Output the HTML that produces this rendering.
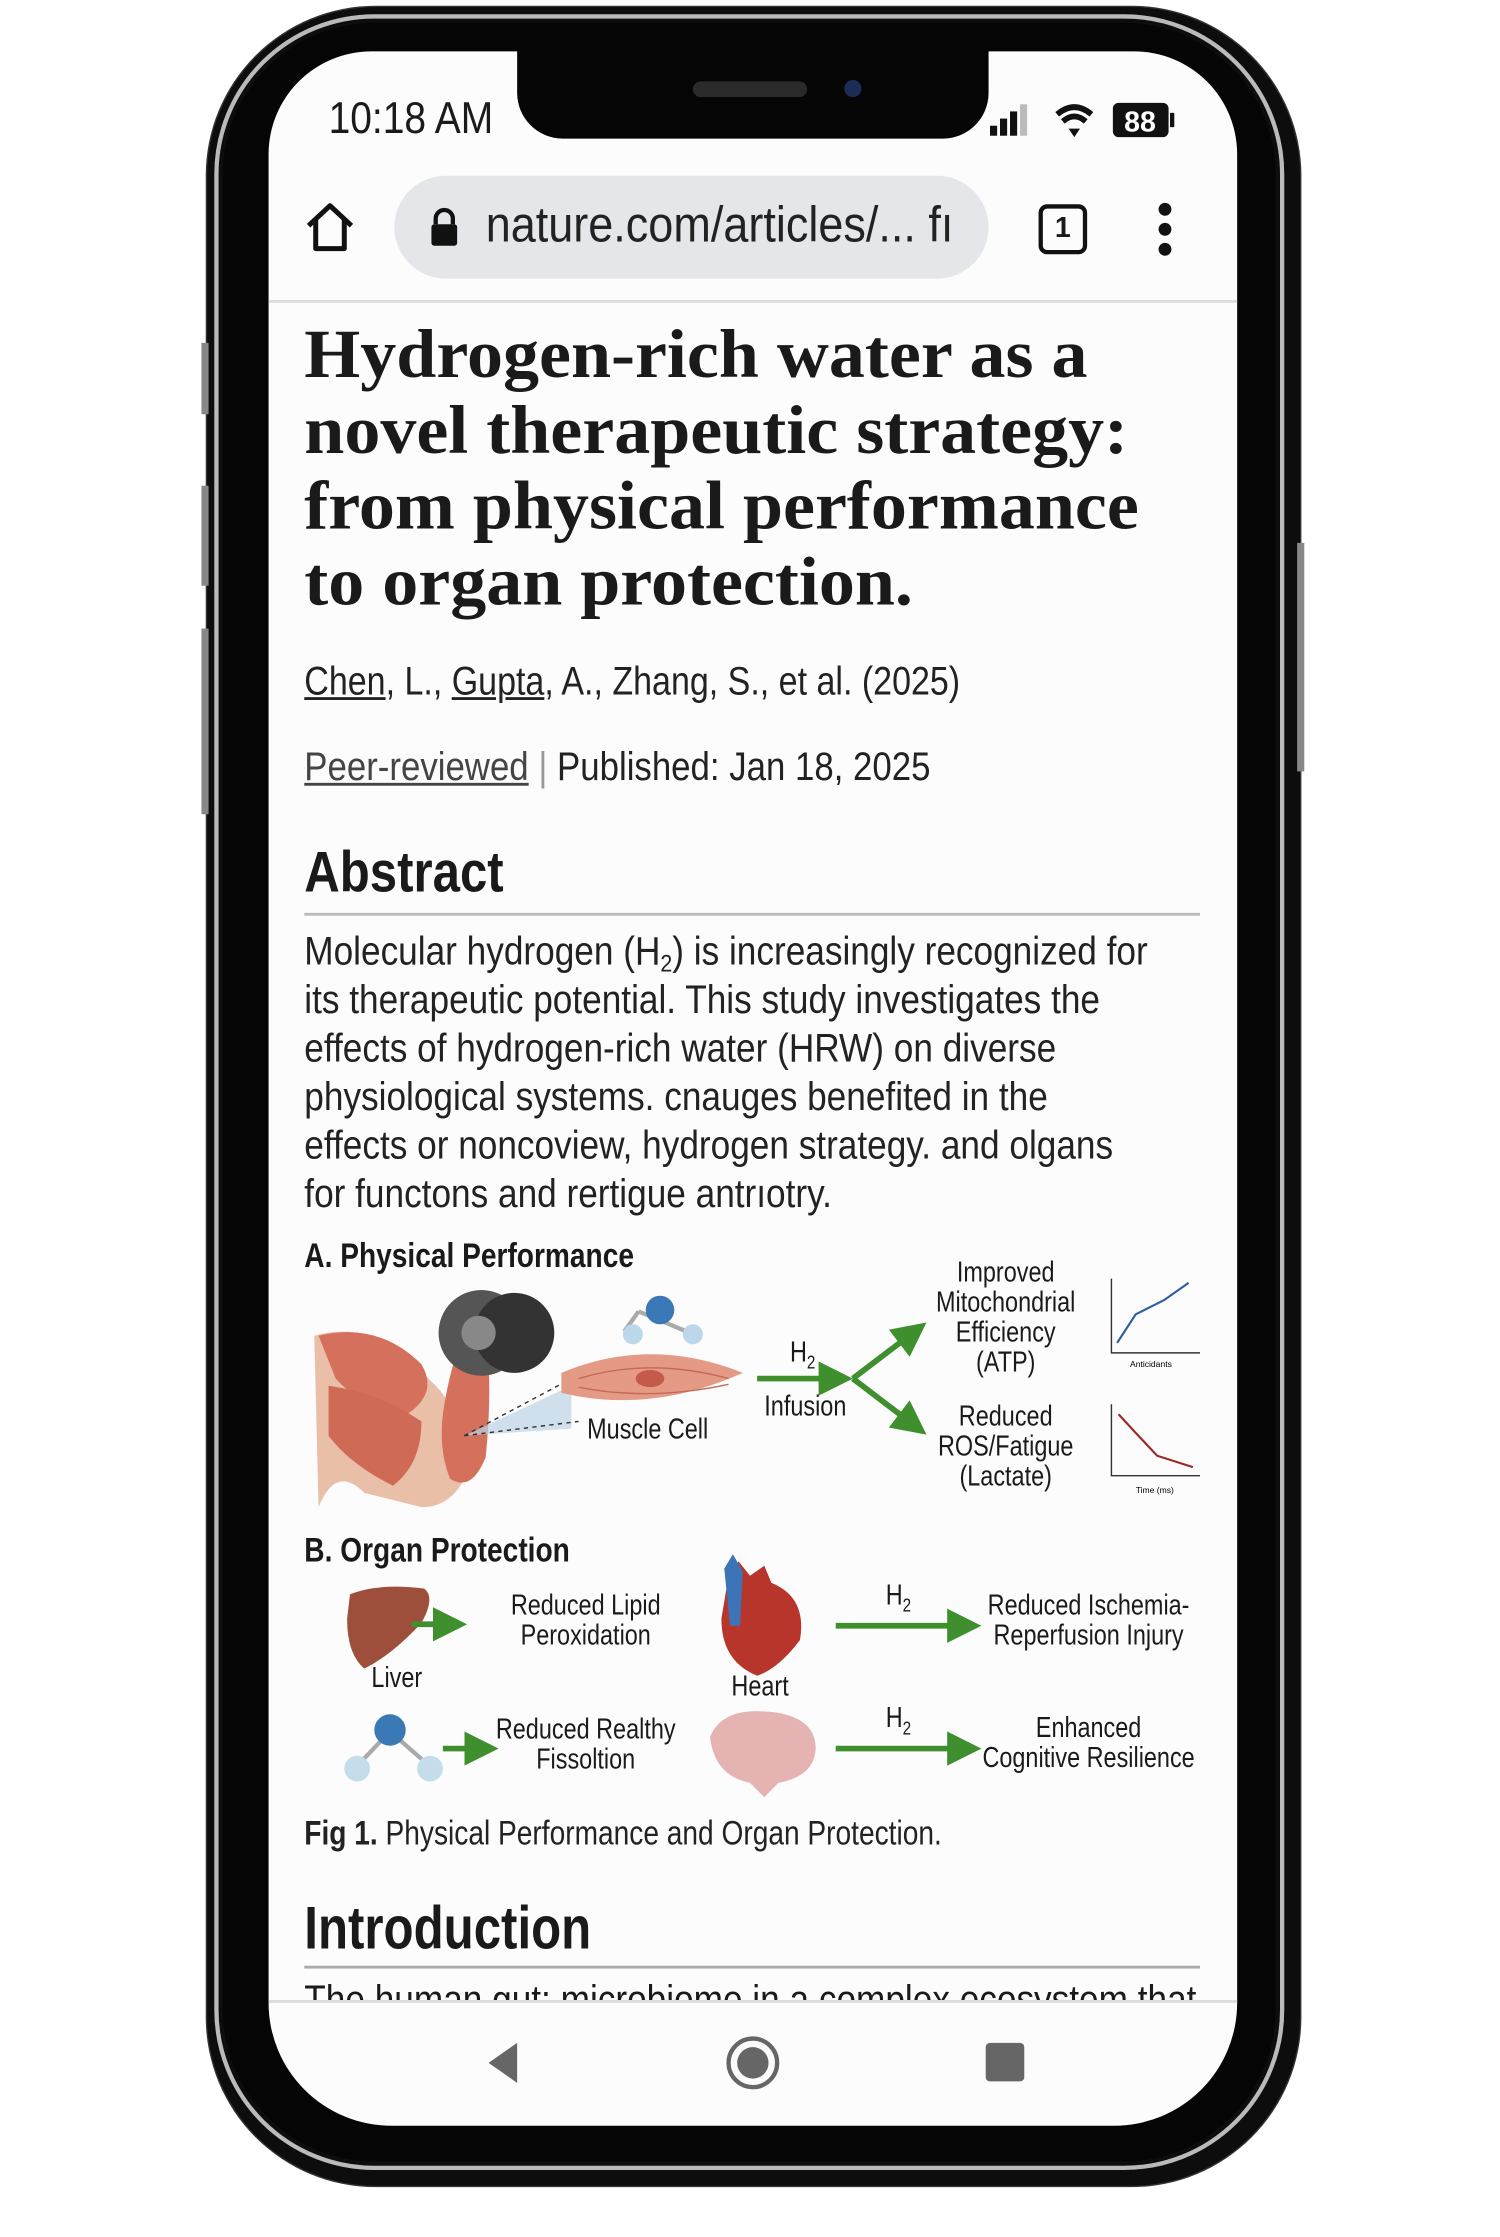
<!DOCTYPE html>
<html><head><meta charset="utf-8">
<style>
html,body{margin:0;padding:0;background:#fff;width:1500px;height:2236px;overflow:hidden}
#w{position:absolute;left:0;top:0;width:1050px;height:1566px;transform:scale(1.428571,1.428571);transform-origin:0 0;font-family:"Liberation Sans",sans-serif;color:#1a1a1a}
.a{position:absolute;white-space:nowrap}
.n{transform:scaleX(.82);transform-origin:0 50%}
.nc{transform:translateX(-50%) scaleX(.82);transform-origin:50% 50%;text-align:center}
.t{font-family:"Liberation Serif",serif;font-weight:bold;font-size:48px;letter-spacing:0;line-height:53px;left:213px;top:222px;transform:scaleX(1.05);transform-origin:0 0}
sub{font-size:17px;line-height:0;vertical-align:-5px}
</style></head><body><div id="w">
<div class="a" style="left:145px;top:5px;width:765px;height:1525px;border-radius:118px;background:#0d0d0d;box-shadow:0 0 0 1px #333"></div>
<div class="a" style="left:150px;top:10px;width:749px;height:1509px;border-radius:112px;border:3px solid #b9bbbb;box-sizing:border-box"></div>
<div class="a" style="left:156px;top:16px;width:737px;height:1497px;border-radius:106px;background:#050505"></div>
<div class="a" style="left:141px;top:240px;width:5px;height:50px;background:#888"></div>
<div class="a" style="left:141px;top:340px;width:5px;height:70px;background:#888"></div>
<div class="a" style="left:141px;top:440px;width:5px;height:130px;background:#888"></div>
<div class="a" style="left:908px;top:380px;width:5px;height:160px;background:#888"></div>
<div class="a" style="left:188px;top:36px;width:678px;height:1452px;border-radius:72px 72px 86px 86px;background:#fcfcfc;overflow:hidden"></div>
<div class="a" style="left:362px;top:30px;width:330px;height:67px;background:#050505;border-radius:0 0 32px 32px"></div>
<div class="a" style="left:485px;top:57px;width:80px;height:11px;border-radius:6px;background:#2a2a2a"></div>
<div class="a" style="left:591px;top:56px;width:12px;height:12px;border-radius:50%;background:#1b2d55"></div>
<div class="a n" style="left:230px;top:65px;font-size:31px;transform:scaleX(.88)">10:18 AM</div>
<svg class="a" style="left:690px;top:70px" width="140" height="30">
<rect x="3" y="18" width="5" height="7" fill="#111"/><rect x="10" y="13" width="5" height="12" fill="#111"/><rect x="17" y="8" width="5" height="17" fill="#111"/><rect x="24" y="3" width="5" height="22" fill="#bbb"/>
<path d="M50 10 Q62 0 74 10" stroke="#111" stroke-width="4" fill="none"/><path d="M54 15 Q62 8 70 15" stroke="#111" stroke-width="4" fill="none"/><path d="M58 20 L62 26 L66 20 Z" fill="#111"/>
<rect x="89" y="2" width="39" height="24" rx="4" fill="#111"/><rect x="129" y="9" width="3" height="10" fill="#111"/>
<text x="108" y="22" font-size="20" fill="#fff" font-family="Liberation Sans" font-weight="bold" text-anchor="middle">88</text>
</svg>
<svg class="a" style="left:212px;top:140px" width="40" height="40"><path d="M4 18 L19 4 L34 18 M9 14 V34 H29 V14" stroke="#111" stroke-width="3.5" fill="none" stroke-linejoin="round"/></svg>
<div class="a" style="left:276px;top:123px;width:416px;height:72px;border-radius:36px;background:#e4e6e9"></div>
<svg class="a" style="left:299px;top:144px" width="24" height="30"><path d="M6 13 V9 a6 6 0 0 1 12 0 V13" stroke="#111" stroke-width="3" fill="none"/><rect x="3" y="13" width="18" height="15" rx="2" fill="#111"/></svg>
<div class="a" style="left:340px;top:138px;width:340px;height:45px;overflow:hidden"><div class="n" style="font-size:35px;color:#222;transform:scaleX(.9)">nature.com/articles/... fı</div></div>
<div class="a" style="left:727px;top:143px;width:28px;height:29px;border:3px solid #111;border-radius:6px;font-size:20px;text-align:center;line-height:29px;font-weight:bold">1</div>
<div class="a" style="left:811px;top:142px;width:9px;height:9px;border-radius:50%;background:#111"></div>
<div class="a" style="left:811px;top:156px;width:9px;height:9px;border-radius:50%;background:#111"></div>
<div class="a" style="left:811px;top:170px;width:9px;height:9px;border-radius:50%;background:#111"></div>
<div class="a" style="left:188px;top:210px;width:678px;height:2px;background:#ddd"></div>
<div class="a t">Hydrogen-rich water as a<br>novel therapeutic strategy:<br>from physical performance<br>to organ protection.</div>
<div class="a n" style="left:213px;top:461px;font-size:28px;color:#222;transform:scaleX(.85)"><u>Chen</u>, L., <u>Gupta</u>, A., Zhang, S., et al. (2025)</div>
<div class="a n" style="left:213px;top:521px;font-size:28px;color:#222;transform:scaleX(.87)"><u style="color:#444">Peer-reviewed</u> <span style="color:#999">|</span> Published: Jan 18, 2025</div>
<div class="a n" style="left:213px;top:589px;font-size:40px;font-weight:bold;transform:scaleX(.86)">Abstract</div>
<div class="a" style="left:213px;top:639px;width:627px;height:2px;background:#bbb"></div>
<div class="a n" style="left:213px;top:649px;font-size:28px;line-height:34px;color:#222;transform:scaleX(.88)">Molecular hydrogen (H<sub>2</sub>) is increasingly recognized for<br>its therapeutic potential. This study investigates the<br>effects of hydrogen-rich water (HRW) on diverse<br>physiological systems. cnauges benefited in the<br>effects or noncoview, hydrogen strategy. and olgans<br>for functons and rertigue antrıotry.</div>
<div class="a n" style="left:213px;top:866px;font-size:24px;font-weight:bold">A. Physical Performance</div>
<svg class="a" style="left:215px;top:895px" width="640" height="170">
<path d="M5 40 Q40 30 70 55 L90 75 Q110 95 110 140 Q100 160 80 160 L40 150 Q20 130 8 160 Z" fill="#e9bfa8"/>
<path d="M8 40 Q50 30 80 60 Q92 80 70 95 Q40 92 20 70 Z" fill="#d4705b"/>
<path d="M15 75 Q50 80 80 100 Q80 130 60 145 Q30 130 15 110 Z" fill="#cf6a55"/>
<path d="M95 95 Q100 60 110 40 L125 35 Q130 75 125 125 Q115 150 100 140 Q92 120 95 95Z" fill="#d4705b"/>
<path d="M110 40 L118 20 L132 22 L126 45 Z" fill="#e9bfa8"/>
<circle cx="122" cy="38" r="30" fill="#555"/><circle cx="145" cy="38" r="28" fill="#333"/><circle cx="120" cy="38" r="12" fill="#888"/>
<path d="M110 110 L185 75 L185 105 Z" fill="#bcd3e6" opacity=".7"/>
<line x1="110" y1="110" x2="185" y2="70" stroke="#333" stroke-dasharray="3 3"/><line x1="110" y1="110" x2="190" y2="100" stroke="#333" stroke-dasharray="3 3"/>
<line x1="232" y1="23" x2="222" y2="37" stroke="#aaa" stroke-width="3"/><line x1="232" y1="23" x2="268" y2="38" stroke="#aaa" stroke-width="3"/>
<circle cx="247" cy="22" r="10" fill="#3a79b5"/><circle cx="228" cy="39" r="7" fill="#bcd7ea"/><circle cx="270" cy="39" r="7" fill="#bcd7ea"/>
<path d="M178 66 Q240 40 305 66 Q240 95 178 80 Z" fill="#e59a86"/>
<path d="M190 70 Q240 55 295 70 M190 76 Q240 86 295 74" stroke="#c66a58" fill="none"/>
<ellipse cx="240" cy="70" rx="10" ry="6" fill="#c35a4a"/>
<defs><marker id="g" markerWidth="6" markerHeight="6" refX="3" refY="3" orient="auto"><path d="M0 0 L6 3 L0 6Z" fill="#3f8f2f"/></marker></defs>
<line x1="315" y1="70" x2="370" y2="70" stroke="#3f8f2f" stroke-width="4" marker-end="url(#g)"/>
<line x1="382" y1="70" x2="424" y2="38" stroke="#3f8f2f" stroke-width="4" marker-end="url(#g)"/>
<line x1="382" y1="70" x2="424" y2="102" stroke="#3f8f2f" stroke-width="4" marker-end="url(#g)"/>
<g stroke="#333" stroke-width="1" fill="none"><path d="M563 -5 V52 H625"/><path d="M563 88 V138 H625"/></g>
<polyline points="567,45 580,25 600,15 617,3" stroke="#2d5fa0" stroke-width="1.5" fill="none"/>
<polyline points="568,95 580,108 595,124 620,132" stroke="#9a2a2a" stroke-width="1.5" fill="none"/>
<text x="576" y="62" font-size="6" font-family="Liberation Sans">Anticidants</text>
<text x="580" y="150" font-size="6" font-family="Liberation Sans">Time (ms)</text>
</svg>
<div class="a n" style="left:411px;top:990px;font-size:20px">Muscle Cell</div>
<div class="a n" style="left:553px;top:936px;font-size:20px">H<sub style="font-size:13px">2</sub></div>
<div class="a n" style="left:535px;top:974px;font-size:20px">Infusion</div>
<div class="a nc" style="left:704px;top:881px;font-size:20px;line-height:21px">Improved<br>Mitochondrial<br>Efficiency<br>(ATP)</div>
<div class="a nc" style="left:704px;top:982px;font-size:20px;line-height:21px">Reduced<br>ROS/Fatigue<br>(Lactate)</div>
<div class="a n" style="left:213px;top:1072px;font-size:24px;font-weight:bold">B. Organ Protection</div>
<svg class="a" style="left:235px;top:1088px" width="620" height="170">
<defs><marker id="h" markerWidth="6" markerHeight="6" refX="3" refY="3" orient="auto"><path d="M0 0 L6 3 L0 6Z" fill="#3f8f2f"/></marker></defs>
<path d="M10 28 Q30 20 62 24 Q70 30 60 48 Q40 70 20 80 Q8 70 8 45 Z" fill="#9e4f3c"/>
<line x1="53" y1="49" x2="80" y2="49" stroke="#3f8f2f" stroke-width="4" marker-end="url(#h)"/>
<path d="M275 15 L282 5 L290 15 L300 8 L305 20 Q330 30 325 60 Q310 80 295 85 Q270 75 270 45 Z" fill="#b8352c"/>
<path d="M272 10 L278 0 L285 12 L283 50 L276 50 Z" fill="#3d74b8"/>
<line x1="350" y1="50" x2="440" y2="50" stroke="#3f8f2f" stroke-width="4" marker-end="url(#h)"/>
<line x1="38" y1="124" x2="18" y2="145" stroke="#aaa" stroke-width="3"/><line x1="38" y1="124" x2="62" y2="145" stroke="#aaa" stroke-width="3"/>
<circle cx="38" cy="123" r="11" fill="#3a79b5"/><circle cx="15" cy="150" r="9" fill="#c5dcea"/><circle cx="66" cy="150" r="9" fill="#c5dcea"/>
<line x1="75" y1="136" x2="102" y2="136" stroke="#3f8f2f" stroke-width="4" marker-end="url(#h)"/>
<path d="M262 128 Q270 108 300 110 Q335 112 336 135 Q336 155 310 160 L300 170 L290 160 Q265 155 262 128Z" fill="#e6b3b3"/>
<line x1="350" y1="136" x2="440" y2="136" stroke="#3f8f2f" stroke-width="4" marker-end="url(#h)"/>
</svg>
<div class="a nc" style="left:410px;top:1114px;font-size:20px;line-height:21px">Reduced Lipid<br>Peroxidation</div>
<div class="a n" style="left:260px;top:1164px;font-size:20px">Liver</div>
<div class="a n" style="left:512px;top:1170px;font-size:20px">Heart</div>
<div class="a n" style="left:620px;top:1106px;font-size:20px">H<sub style="font-size:13px">2</sub></div>
<div class="a nc" style="left:762px;top:1114px;font-size:20px;line-height:21px">Reduced Ischemia-<br>Reperfusion Injury</div>
<div class="a nc" style="left:410px;top:1201px;font-size:20px;line-height:21px">Reduced Realthy<br>Fissoltion</div>
<div class="a n" style="left:620px;top:1192px;font-size:20px">H<sub style="font-size:13px">2</sub></div>
<div class="a nc" style="left:762px;top:1200px;font-size:20px;line-height:21px">Enhanced<br>Cognitive Resilience</div>
<div class="a n" style="left:213px;top:1270px;font-size:24px;color:#222"><b>Fig 1.</b> Physical Performance and Organ Protection.</div>
<div class="a n" style="left:213px;top:1326px;font-size:42px;font-weight:bold">Introduction</div>
<div class="a" style="left:213px;top:1376px;width:627px;height:2px;background:#aaa"></div>
<div class="a" style="left:213px;top:1386px;width:640px;height:15px;overflow:hidden"><div class="n" style="font-size:28px;line-height:28px;transform:scaleX(.88)">The human gut: microbiome in a complex ecosystem that</div></div>
<div class="a" style="left:188px;top:1400px;width:678px;height:2px;background:#ddd"></div>
<svg class="a" style="left:330px;top:1422px" width="400" height="45">
<path d="M32 8 L32 36 L12 22 Z" fill="#666"/>
<circle cx="197" cy="22" r="17" fill="none" stroke="#666" stroke-width="3"/><circle cx="197" cy="22" r="11" fill="#666"/>
<rect x="360" y="8" width="27" height="27" rx="3" fill="#666"/>
</svg>
</div></body></html>
